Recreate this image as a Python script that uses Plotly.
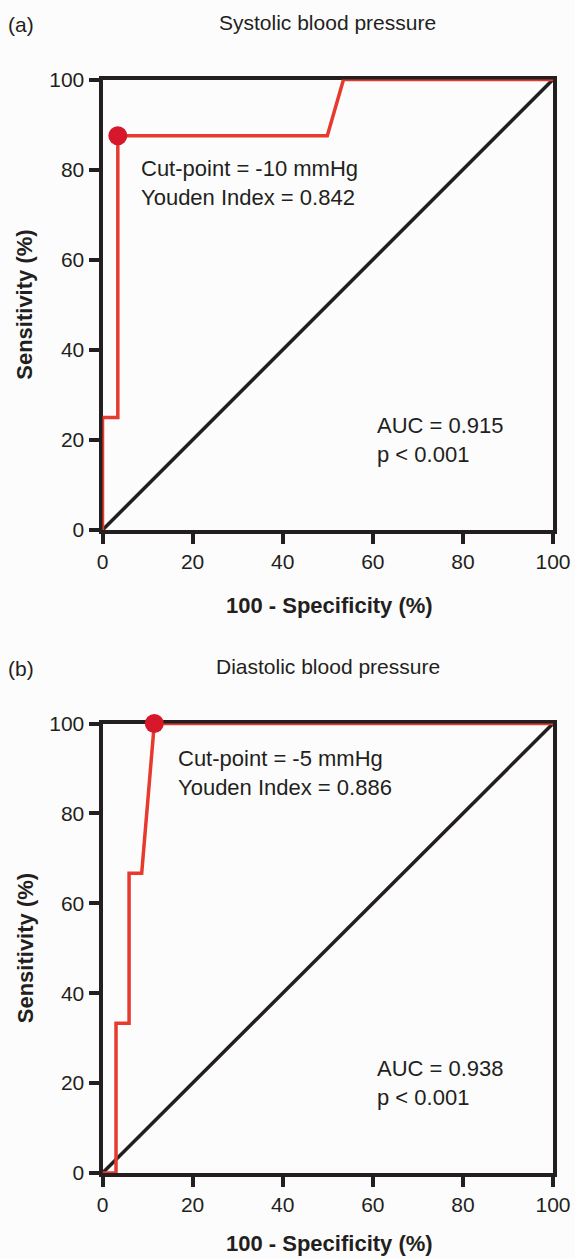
import plotly.graph_objects as go

# Panel (a) systolic ROC
sys_fpr = [0, 0, 3.4, 3.4, 49.9, 53.5, 100]
sys_tpr = [0, 25, 25, 87.5, 87.5, 100, 100]
sys_cut = ([3.4], [87.5])
# Panel (b) diastolic ROC
dia_fpr = [0, 3.0, 3.0, 5.9, 5.9, 8.7, 11.5, 100]
dia_tpr = [0, 0, 33.3, 33.3, 66.7, 66.7, 100, 100]
dia_cut = ([11.5], [100])
ref_line = [0, 100]

tick_vals = [0, 20, 40, 60, 80, 100]
panel_titles = ["Systolic blood pressure", "Diastolic blood pressure"]
panel_labels = ["(a)", "(b)"]
x_title = "<b>100 - Specificity (%)</b>"
y_title = "<b>Sensitivity (%)</b>"
cut_texts = ["Cut-point = -10 mmHg<br>Youden Index = 0.842", "Cut-point = -5 mmHg<br>Youden Index = 0.886"]
auc_texts = ["AUC = 0.915<br>p < 0.001", "AUC = 0.938<br>p < 0.001"]

RED = "#E53A2D"
DOT = "#D7182A"
INK = "#231F20"
BG = "#fcfcfc"
FONT = "Liberation Sans, Arial, sans-serif"

W, H = 575, 1258
xdom = [102.5 / W, 553 / W]
tops = [79.5, 723.5]
bots = [530, 1173]
ydoms = [[1 - bots[i] / H, 1 - tops[i] / H] for i in range(2)]

fig = go.Figure()
data = [(sys_fpr, sys_tpr, sys_cut), (dia_fpr, dia_tpr, dia_cut)]
for i, (fx, ty, cut) in enumerate(data):
    xa = "x" if i == 0 else "x2"
    ya = "y" if i == 0 else "y2"
    fig.add_trace(go.Scatter(x=ref_line, y=ref_line, mode="lines",
                             line=dict(color=INK, width=3.5), xaxis=xa, yaxis=ya, showlegend=False))
    fig.add_trace(go.Scatter(x=fx, y=ty, mode="lines",
                             line=dict(color=RED, width=3.5), xaxis=xa, yaxis=ya, showlegend=False))
    fig.add_trace(go.Scatter(x=cut[0], y=cut[1], mode="markers", cliponaxis=False,
                             marker=dict(color=DOT, size=19), xaxis=xa, yaxis=ya, showlegend=False))

axis_common = dict(range=[0, 100], tickvals=tick_vals, ticks="outside", ticklen=10, tickwidth=4,
                   tickcolor=INK, showline=True, linewidth=4, linecolor=INK, mirror=True,
                   showgrid=False, zeroline=False, layer="below traces", automargin=False,
                   tickfont=dict(family=FONT, size=21, color=INK))

layout = dict(width=W, height=H, margin=dict(l=0, r=0, t=0, b=0, autoexpand=False),
              paper_bgcolor=BG, plot_bgcolor=BG,
              font=dict(family=FONT, color=INK), showlegend=False)
for i in range(2):
    sx = "" if i == 0 else "2"
    layout["xaxis" + sx] = dict(axis_common, domain=xdom, anchor="y" + sx)
    layout["yaxis" + sx] = dict(axis_common, domain=ydoms[i], anchor="x" + sx)
fig.update_layout(**layout)


def py(px):
    return 1 - px / H


xtitle_y = [605, 1243]
for i in range(2):
    off = tops[i] - tops[0]
    fig.add_annotation(text=panel_titles[i], x=327.5 / W, y=py(22 + off), xref="paper", yref="paper",
                       yanchor="middle", showarrow=False, font=dict(family=FONT, size=21, color=INK))
    fig.add_annotation(text=panel_labels[i], x=6 / W, y=py(24 + off), xref="paper", yref="paper",
                       xanchor="left", yanchor="middle", showarrow=False,
                       font=dict(family=FONT, size=21, color=INK))
    fig.add_annotation(text=x_title, x=329.5 / W, y=py(xtitle_y[i]), xref="paper", yref="paper",
                       yanchor="middle", showarrow=False, font=dict(family=FONT, size=22, color=INK))
    fig.add_annotation(text=y_title, x=25 / W, y=py((tops[i] + bots[i]) / 2), xref="paper", yref="paper",
                       textangle=-90, xanchor="center", yanchor="middle", showarrow=False,
                       font=dict(family=FONT, size=22, color=INK))
    xa = "x" if i == 0 else "x2"
    ya = "y" if i == 0 else "y2"
    fig.add_annotation(text=cut_texts[i], x=[8.2, 16.3][i], y=[77, 89][i], xref=xa, yref=ya, xanchor="left",
                       yanchor="middle", align="left", showarrow=False,
                       font=dict(family=FONT, size=22, color=INK))
    fig.add_annotation(text=auc_texts[i], x=60.5, y=20, xref=xa, yref=ya, xanchor="left",
                       yanchor="middle", align="left", showarrow=False,
                       font=dict(family=FONT, size=22, color=INK))

fig.write_html("out.html", config={"displayModeBar": False},
               post_script="document.body.style.margin='0';document.body.style.overflow='hidden';")
